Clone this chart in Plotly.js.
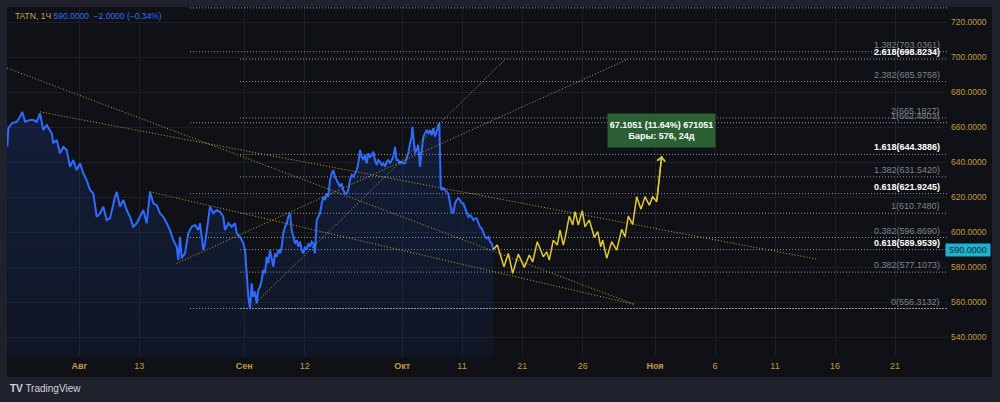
<!DOCTYPE html>
<html>
<head>
<meta charset="utf-8">
<script src="https://cdn.plot.ly/plotly-3.0.1.min.js"></script>
<style>html,body{margin:0;padding:0;background:#1f222c;}#chart{width:1000px;height:402px;}</style>
</head>
<body>
<div id="chart"></div>
<script>
// ---- DATA (x = bar slot index along the time scale, y = price) ----
const tickPos = [72.3,132.3,237.3,297.7,395.3,455,515.3,575.7,648,708,768,828,888];
const tickLabels = ['<b>Авг</b>','13','<b>Сен</b>','12','<b>Окт</b>','11','21','26','<b>Ноя</b>','6','11','16','21'];
const priceTicks = [540,560,580,600,620,640,660,680,700,720];

const priceX = [0.3,1.3,4.7,9.7,13,15.3,18,23,26.3,29.7,33,36.3,39.7,44.7,46.3,49.7,53,56.3,59.7,63,66.3,69.7,73,76.3,79.7,83,86.3,89.7,93,96.3,99.7,103,108,109.7,113,116.3,119.7,123,126.3,129.7,133,136.3,139.7,143,146.3,149.7,153,156.3,159.7,163,166.3,169.7,171.3,173,174.7,178,181.3,184.7,188,191.3,193,194.7,196.3,198,199.7,203,206.3,209.7,213,216.3,218,221.3,224.7,228,229.7,233,236.3,238,239.7,241.3,243,244.7,246.3,248,249.7,251.3,253,254.7,256.3,258,259.7,261.3,263,264.7,266.3,268,269.7,271.3,273,274.7,276.3,278,279.7,281.3,283,284.7,286.3,288,289.7,291.3,293,294.7,296.3,298,299.7,301.3,303,304.7,306.3,308,309.7,311.3,313,314.7,316.3,318,319.7,321.3,323,324.7,326.3,328,329.7,331.3,333,334.7,336.3,338,339.7,341.3,343,344.7,346.3,348,349.7,351.3,353,354.7,356.3,358,359.7,361.3,363,364.7,366.3,368,369.7,371.3,373,374.7,376.3,378,379.7,381.3,383,384.7,386.3,388,389.7,391.3,393,394.7,396.3,398,399.7,401.3,403,404.7,405.3,406.3,408,409.7,411.3,413,414.7,416.3,418,419.7,421.3,423,424.7,426.3,428,429.7,431.3,432.3,433,433.7,434.7,436.3,438,439.7,441.3,443,444.7,446.3,448,449.7,451.3,453,454.7,456.3,458,459.7,461.3,463,464.7,466.3,468,469.7,471.3,473,474.7,476.3,478,479.7,481.3,483,484.7,486.3];
const priceY = [648.7,659.3,662.1,663.0,665.9,668.7,663.0,664.0,664.0,663.0,667.8,658.3,661.1,656.4,650.7,652.6,645.0,648.7,646.9,637.3,641.1,635.4,639.3,633.5,629.7,624.0,622.1,608.7,610.7,614.5,606.9,607.8,620.2,623.0,614.5,618.3,612.6,608.7,603.0,605.0,608.7,612.6,605.0,623.0,616.4,615.4,610.7,608.7,605.0,601.1,595.4,591.6,584.0,597.3,585.0,587.8,599.3,603.0,604.0,601.1,605.0,597.3,589.7,593.5,601.1,614.5,610.7,612.6,611.6,608.7,601.1,605.0,603.0,605.0,599.3,597.3,593.5,589.7,576.4,563.0,556.3,570.7,563.0,565.9,559.3,566.9,568.7,572.6,578.3,576.4,585.9,582.1,589.7,584.0,580.2,587.8,585.9,589.7,587.8,591.6,599.3,603.0,605.0,608.7,610.7,601.1,597.3,593.5,595.4,591.6,594.5,589.7,587.8,591.6,589.7,593.5,591.6,594.5,593.5,587.8,606.9,608.7,610.7,616.4,620.2,618.3,622.1,620.2,629.7,633.5,635.4,631.6,629.7,627.8,625.9,627.8,624.0,622.1,622.1,624.0,629.7,632.6,631.6,633.5,635.4,639.3,646.9,643.0,641.1,644.0,639.3,645.0,643.0,644.0,645.9,641.1,638.3,641.1,640.2,638.3,639.3,637.3,640.2,641.1,639.3,641.1,643.0,648.7,641.1,641.1,639.3,640.2,639.3,639.3,643.0,645.0,650.7,654.5,660.2,652.6,645.0,646.9,649.7,637.3,648.7,654.5,656.4,658.3,656.4,658.3,655.4,659.3,654.5,658.3,661.1,662.5,645.0,625.9,624.0,625.0,624.0,623.0,622.1,616.4,611.6,610.7,616.4,618.3,619.3,618.3,616.4,616.4,613.5,610.7,608.7,609.7,608.7,606.9,607.8,607.8,605.0,603.0,602.1,600.2,597.3,596.4,597.3,594.5,593.5,590.0];

// forecast path drawing (yellow zig-zag with arrow)
const pathX = [486.3,490.3,497,501.3,505.7,511.3,517.3,522.3,525.7,530.3,536.3,539.7,542.3,546.3,550.3,553,556.3,558,562.3,565.7,568,571.3,575.3,578,582.3,587.3,590.7,593.7,595.7,599.7,604.7,609.7,614.7,618,621.3,625.7,629.7,634,638,642.3,645.7,649.7,654.7];
const pathY = [590.0,592.6,580.2,587.8,576.4,587.4,579.8,586.9,583.0,594.5,585.9,588.7,584.0,595.4,592.6,601.1,592.6,596.4,609.1,604.0,611.6,604.0,612.2,603.0,606.9,597.0,600.2,591.6,595.4,585.0,594.5,589.7,601.5,597.3,609.1,604.4,620.2,613.1,620.2,615.4,620.2,617.3,643.5];

// trend lines (start/end in bar slot and price)
const trendX = [[0,628],[33,811],[143,628],[169.7,621],[243,498.5]];
const trendY = [[693.7,558.6],[668.7,584.4],[623.0,558.6],[582.1,698.8],[556.3,698.8]];

// Fibonacci tools
const fib1Start = 233;
const fib1Levels = ['0','0.382','0.618','1','1.382','1.618','2','2.382','2.618'];
const fib1Prices = [556.3132,577.1073,589.9539,610.7480,631.5420,644.3886,665.1827,685.9768,698.8234];
const fib1ShowLabel = [false,true,true,true,true,true,true,true,true];
const fib2Start = 183;
const fib2Levels = ['0','0.382','0.618','1','1.382','1.618'];
const fib2Prices = [556.3132,596.8690,621.9245,662.4803,703.0361,728.0916];
const fib2ShowLabel = [true,true,true,true,true,false];

const lastPrice = 590.0;
const headerSymbol = 'TATN, 1Ч';
const headerQuote = '590.0000\u00a0\u00a0−2.0000 (−0.34%)';
const measureText = '<b>67.1051 (11.64%) 671051</b><br><b>Бары: 576, 24д</b>';

const xRange = [0, 940];
const yRange = [528.6, 728.6];

// ---- STYLE ----
const gold = '#c39a3c';
const paneBg = '#0f1116';
const frameBg = '#1f222c';
const gridCol = '#1c1f27';
const fontFam = 'Liberation Sans, Arial, sans-serif';

const traces = [];

function addFib(start, prices) {
  prices.forEach(p => {
    traces.push({x:[start, xRange[1]], y:[p,p], mode:'lines', hoverinfo:'skip',
      line:{color:'rgba(170,173,180,0.85)', width:1, dash:'1px,2px'}});
  });
}
addFib(fib2Start, fib2Prices);
addFib(fib1Start, fib1Prices);

traces.push({x:priceX, y:priceY, mode:'lines', fill:'tozeroy', hoverinfo:'skip',
  line:{color:'#2f6bff', width:2},
  fillgradient:{type:'vertical', start:yRange[0], stop:670,
    colorscale:[[0,'rgba(41,98,255,0.06)'],[1,'rgba(41,98,255,0.16)']]}});

trendX.forEach((tx,i) => {
  traces.push({x:tx, y:trendY[i], mode:'lines', hoverinfo:'skip',
    line:{color:'#bba82e', width:1, dash:'1px,2px'}});
});

traces.push({x:pathX, y:pathY, mode:'lines', hoverinfo:'skip',
  line:{color:'#e2c930', width:1.5}});

const annotations = [];
function fibLabels(levels, prices, show) {
  levels.forEach((lv,i) => {
    if (!show[i]) return;
    const bold = (lv === '0.618' || lv === '1.618' || lv === '2.618');
    annotations.push({x:xRange[1]-6, y:prices[i], xref:'x', yref:'y', xanchor:'right', yanchor:'bottom',
      showarrow:false, yshift:1, borderpad:0,
      text: bold ? '<b>'+lv+'('+prices[i].toFixed(4)+')</b>' : lv+'('+prices[i].toFixed(4)+')',
      font:{family:fontFam, size:9, color: bold ? '#ffffff' : '#7f828c'}});
  });
}
fibLabels(fib2Levels, fib2Prices, fib2ShowLabel);
fibLabels(fib1Levels, fib1Prices, fib1ShowLabel);

const n = pathX.length;
annotations.push({x:pathX[n-1], y:pathY[n-1], ax:pathX[n-2], ay:pathY[n-2], xref:'x', yref:'y', axref:'x', ayref:'y',
  showarrow:true, arrowhead:4, arrowsize:1.2, arrowwidth:1.3, arrowcolor:'#e2c930', text:''});

annotations.push({x:pathX[n-1], y:pathY[n-1], xref:'x', yref:'y', xanchor:'center', yanchor:'bottom', yshift:8,
  showarrow:false, text:measureText, align:'center', bgcolor:'#2a6034', width:103, height:29, borderpad:2,
  font:{family:fontFam, size:9, color:'#ffffff'}});

annotations.push({x:1.0223, y:lastPrice, xref:'paper', yref:'y', xanchor:'center', yanchor:'middle',
  showarrow:false, text:lastPrice.toFixed(4), bgcolor:'#1db3cf', width:42, height:10, borderpad:1,
  font:{family:fontFam, size:9, color:'#0b2533'}});

annotations.push({x:0.0064, y:0.974, xref:'paper', yref:'paper', xanchor:'left', yanchor:'middle', showarrow:false,
  text:'<span style="color:#c9a449">'+headerSymbol+'</span>\u00a0<span style="color:#2f6bff">'+headerQuote+'</span>',
  font:{family:fontFam, size:8.5}});

annotations.push({x:0.001, y:-0.0914, xref:'paper', yref:'paper', xanchor:'left', yanchor:'middle', showarrow:false,
  text:'<b>TV</b> TradingView', font:{family:fontFam, size:10, color:'#d1d4dc'}});

const layout = {
  width:1000, height:402,
  margin:{l:7, r:53, t:7, b:45, pad:0},
  paper_bgcolor:frameBg, plot_bgcolor:paneBg,
  showlegend:false, hovermode:false,
  font:{family:fontFam, size:9, color:gold},
  xaxis:{range:xRange, tickvals:tickPos, ticktext:tickLabels, showgrid:true, gridcolor:gridCol, gridwidth:1,
    zeroline:false, showline:false, ticks:'', ticklabelstandoff:2, tickfont:{family:fontFam, size:9, color:gold}, automargin:false, fixedrange:true},
  yaxis:{range:yRange, side:'right', tickvals:priceTicks, ticktext:priceTicks.map(v=>v.toFixed(4)),
    showgrid:true, gridcolor:gridCol, zeroline:false, showline:false, ticks:'', ticklabelstandoff:3,
    tickfont:{family:fontFam, size:8.5, color:gold}, automargin:false, fixedrange:true},
  shapes:[{type:'rect', xref:'paper', yref:'paper', x0:0, x1:1.0479, y0:-0.0571, y1:1, fillcolor:paneBg, line:{width:0}, layer:'below'}],
  annotations:annotations
};

Plotly.newPlot('chart', traces, layout, {staticPlot:true, displayModeBar:false});
</script>
</body>
</html>
